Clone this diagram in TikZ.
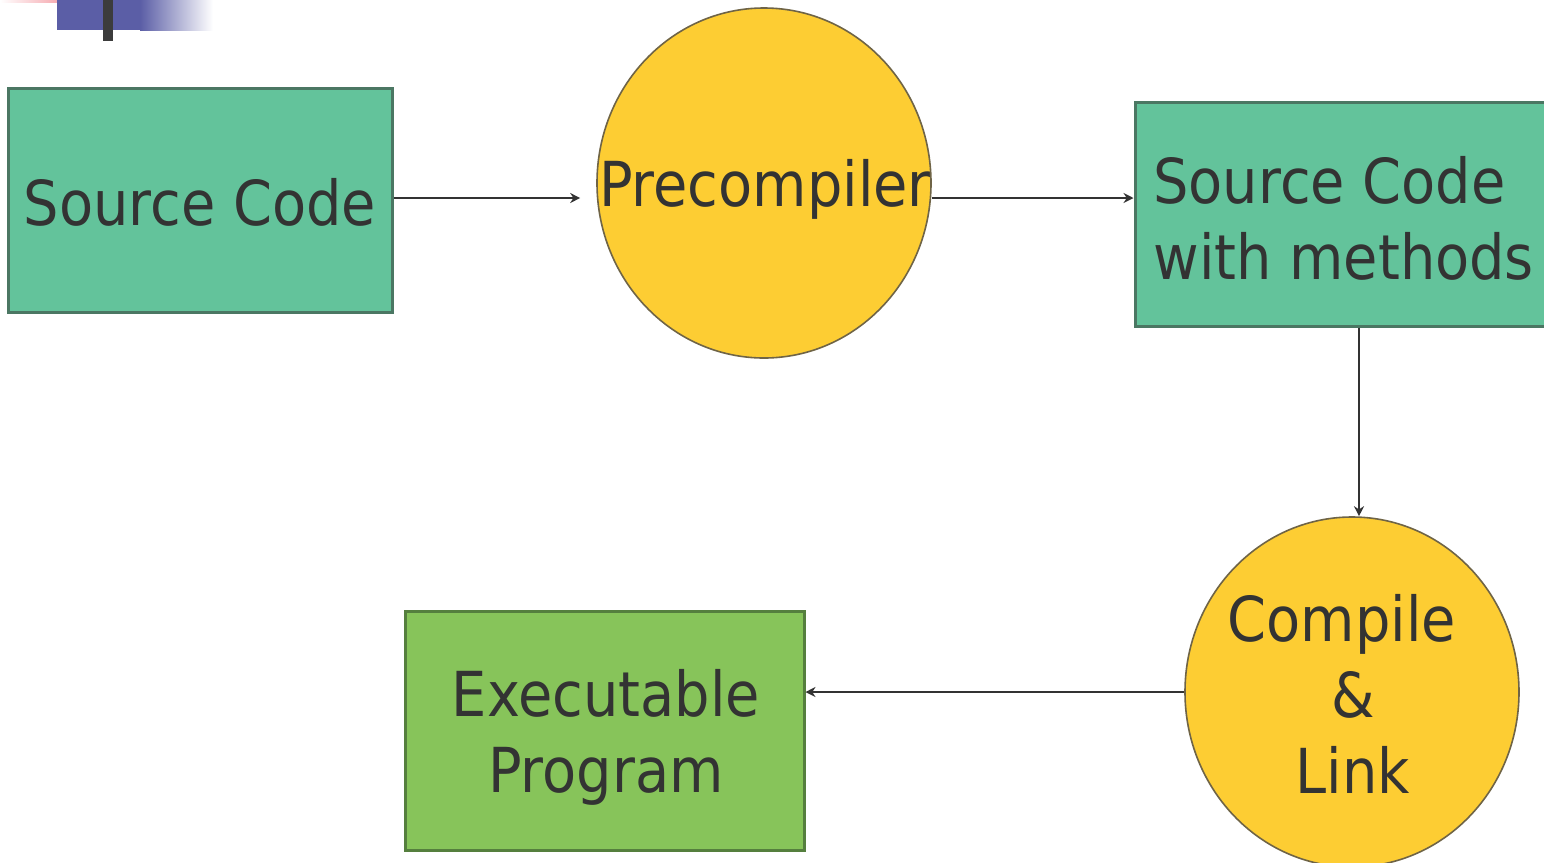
\documentclass[tikz,border=0pt]{standalone}
\usepackage{fontspec}
\newfontfamily\diafont[FakeStretch=0.9]{DejaVu Sans}
\usetikzlibrary{shapes.geometric,arrows.meta}
\definecolor{teal}{HTML}{63C39B}
\definecolor{tealborder}{HTML}{4B7763}
\definecolor{leaf}{HTML}{87C45A}
\definecolor{leafborder}{HTML}{557F3E}
\definecolor{sun}{HTML}{FDCD33}
\definecolor{sunborder}{HTML}{6F6446}
\definecolor{ink}{HTML}{333333}
\definecolor{deco}{HTML}{5B5EA6}
\definecolor{decopink}{HTML}{F07A84}
\definecolor{decobar}{HTML}{3C3C3C}
\tikzset{
  txt/.style={font=\diafont\fontsize{31pt}{38pt}\selectfont, text=ink, inner sep=0pt},
  tealbox/.style={draw=tealborder, fill=teal, line width=1.5pt, rectangle, inner sep=0pt},
  leafbox/.style={draw=leafborder, fill=leaf, line width=1.5pt, rectangle, inner sep=0pt},
  sunball/.style={draw=sunborder, fill=sun, line width=0.8pt, ellipse, inner sep=0pt,
                  minimum width=167pt, minimum height=175pt},
  flow/.style={draw=ink, line width=1pt, -{Stealth[length=5pt,width=5pt]}}
}
\begin{document}
\begin{tikzpicture}[x=0.5pt,y=-0.5pt]
\useasboundingbox (0,0) rectangle (1544,863);
\clip (0,0) rectangle (1544,863);
\fill[white] (0,0) rectangle (1544,863);
% decoration
\shade[left color=white, right color=decopink] (0,0) rectangle (92,2);
\fill[deco] (57,0) rectangle (141,30);
\shade[left color=deco, right color=white] (140,0) rectangle (213,30);
\fill[decobar] (103,0) rectangle (113,41);
% nodes
\node[tealbox, minimum width=192pt, minimum height=112pt] (src) at (200,200) {};
\node[txt] (srct) at (200,202) {Source Code};
\node[sunball] (pre) at (764,183) {};
\node[txt] (pret) at (765,189) {Precompiler};
\node[tealbox, minimum width=212.5pt, minimum height=112pt] (meth) at (1347.5,214) {};
\node[txt, align=left, anchor=west] (metht) at (1153,218) {Source Code\\with methods};
\node[sunball] (cl) at (1352,692) {};
\node[txt, align=center] (clt) at (1342,694) {Compile\\\hspace*{11pt}\&\\\hspace*{11pt}Link};
\node[leafbox, minimum width=199.5pt, minimum height=119.5pt] (exe) at (604.5,730.5) {};
\node[txt, align=center] (exet) at (606,737) {Executable\\Program};
% connectors
\draw[flow, shorten >=8pt] ([yshift=1pt]src.east) -- ([yshift=1pt]src.east -| pre.west);
\draw[flow] ([yshift=-7.5pt]pre.east) -- ([yshift=-7.5pt]pre.east -| meth.west);
\draw[flow] ([xshift=5.75pt]meth.south) -- ([xshift=5.75pt]meth.south |- cl.north);
\draw[flow] (cl.west) -- (cl.west -| exe.east);
\end{tikzpicture}
\end{document}
